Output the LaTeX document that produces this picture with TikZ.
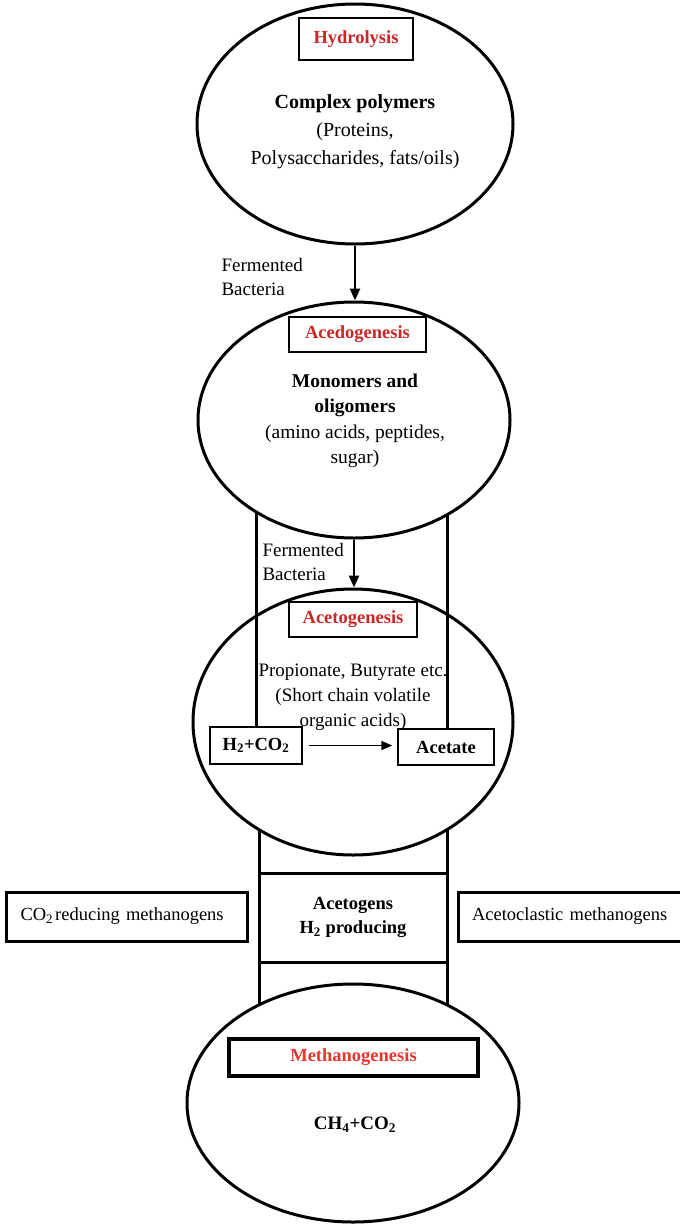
\documentclass[tikz,border=0pt]{standalone}
\usepackage{fontspec}
\setmainfont{Liberation Serif}
\usetikzlibrary{shapes.geometric,arrows.meta}
\pgfdeclarelayer{la}\pgfdeclarelayer{lb}\pgfdeclarelayer{lc}\pgfdeclarelayer{ld}
\pgfsetlayers{la,lb,lc,ld,main}
\definecolor{stagered}{RGB}{200,40,40}
\definecolor{stagered2}{RGB}{228,55,45}
\begin{document}
\begin{tikzpicture}[x=1pt,y=-1pt,
  oval/.style={ellipse,draw,line width=3pt,fill=white,inner sep=0pt},
  stagebox/.style={draw,line width=1.4pt,inner sep=0pt,text=stagered,
    font=\fontsize{18.5}{22}\selectfont\bfseries},
  plainbox/.style={draw,line width=1.4pt,inner sep=0pt,
    font=\fontsize{18.5}{22}\selectfont\bfseries},
  thickbox/.style={draw,line width=3pt,inner sep=0pt,outer sep=0pt,align=center,
    font=\fontsize{18.5}{24}\selectfont},
  thickline/.style={line width=3pt},
  flow/.style={line width=2.6pt,-{Triangle[length=12pt,width=10pt]}},
  note/.style={align=left,font=\fontsize{19}{24}\selectfont}
]
\useasboundingbox (0,0) rectangle (680,1224);

% ellipses
\begin{pgfonlayer}{ld}
\node[oval,minimum width=316pt,minimum height=240pt] (e1) at (355,124) {};
\node[oval,minimum width=312pt,minimum height=236pt] (e2) at (354,420) {};
\node[oval,minimum width=332pt,minimum height=238pt] (e4) at (353,1103) {};
\end{pgfonlayer}
\begin{pgfonlayer}{lb}
\node[oval,minimum width=320pt,minimum height=266pt] (e3) at (353,722) {};
\end{pgfonlayer}

% stage labels
\node[stagebox,minimum width=114pt,minimum height=42pt] (hyd) at (356,39) {Hydrolysis};
\node[stagebox,minimum width=137pt,minimum height=35pt] (ace) at (357.5,334.5) {Acedogenesis};
\node[stagebox,minimum width=128pt,minimum height=35pt] (acg) at (353,619.5) {Acetogenesis};
\node[stagebox,line width=3.2pt,text=stagered2,minimum width=249pt,minimum height=37pt] (met) at (353.5,1057.5) {Methanogenesis};

% ellipse contents
\node[align=center,font=\fontsize{20}{28}\selectfont] (t1) at (355,132)
  {\textbf{Complex polymers}\\(Proteins,\\Polysaccharides, fats/oils)};
\node[align=center,font=\fontsize{19.5}{25.5}\selectfont] (t2) at (355,421)
  {\textbf{Monomers and}\\\textbf{oligomers}\\(amino acids, peptides,\\sugar)};
\node[align=center,font=\fontsize{19}{25}\selectfont] (t3) at (353,697)
  {Propionate, Butyrate etc.\\(Short chain volatile\\organic acids)};
\node[font=\fontsize{19}{24}\selectfont\bfseries] (t4) at (355,1125)
  {CH\textsubscript{4}+CO\textsubscript{2}};

% inner boxes of acetogenesis
\node[plainbox,minimum width=92pt,minimum height=37pt] (h2) at (256,745.5) {H\textsubscript{2}+CO\textsubscript{2}};
\node[plainbox,minimum width=96pt,minimum height=36pt] (acet) at (446,747) {Acetate};

% middle row
\node[thickbox,minimum width=188pt,minimum height=89pt] (ag) at (353,917.5)
  {\textbf{Acetogens}\\\textbf{H\textsubscript{2} producing}};
\node[thickbox,minimum width=241pt,minimum height=49pt,text width=212pt,align=left] (co2m) at (126.5,916.5)
  {\mbox{CO\textsubscript{2}\kern2pt reducing methanogens}};
\node[thickbox,minimum width=224pt,minimum height=49pt,text width=196pt,align=left] (acm) at (570,916.5)
  {\mbox{Acetoclastic methanogens}};

% notes
\node[note,anchor=west] (n1) at (218,277) {Fermented\\Bacteria};
\node[note,anchor=west] (n2) at (259,561.5) {Fermented\\Bacteria};

% arrows
\draw[flow] (e1.south) -- (e1.south |- e2.north);
\draw[flow] (e2.south) -- (e2.south |- e3.north);
\draw[line width=1.6pt,-{Triangle[length=11pt,width=9pt]},shorten <=6pt,shorten >=5pt]
  (h2.east) -- (h2.east -| acet.west);

% side lines
\begin{pgfonlayer}{lc}
\draw[thickline] (h2.north) -- (h2.north |- e2.center);
\draw[thickline] (acet.north) ++(1,0) coordinate (ar) -- (ar |- e2.center);
\end{pgfonlayer}
\begin{pgfonlayer}{la}
\draw[thickline] (ag.north west) -- (ag.north west |- e3.center);
\draw[thickline] (ag.north east) -- (ag.north east |- e3.center);
\draw[thickline] (ag.south west) -- (ag.south west |- e4.center);
\draw[thickline] (ag.south east) -- (ag.south east |- e4.center);
\end{pgfonlayer}
\end{tikzpicture}
\end{document}
